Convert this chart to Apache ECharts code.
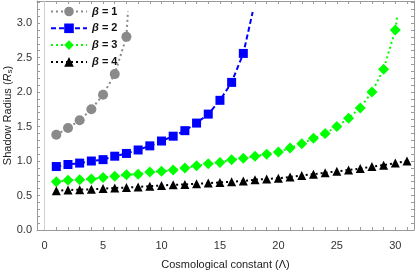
<!DOCTYPE html>
<html>
<head>
<meta charset="utf-8">
<script src="https://cdn.jsdelivr.net/npm/echarts@6/dist/echarts.min.js"></script>
<style>html,body{margin:0;padding:0;background:#fff}#c{width:415px;height:274px}</style>
</head>
<body>
<div id="c"></div>
<script>
// Λ values (x) are integers starting at 1
const beta1 = [1.38, 1.48, 1.59, 1.75, 1.96, 2.26, 2.80];
const beta1End = [7.13, 3.17];
const beta2 = [0.92, 0.95, 0.97, 1.00, 1.02, 1.07, 1.11, 1.16, 1.22, 1.29, 1.36, 1.44, 1.55, 1.68, 1.88, 2.14, 2.56];
const beta2End = [17.8, 3.16];
const beta3 = [0.70, 0.72, 0.73, 0.74, 0.76, 0.78, 0.80, 0.81, 0.84, 0.85, 0.87, 0.90, 0.93, 0.96, 0.98, 1.02, 1.04, 1.07, 1.10, 1.13, 1.19, 1.25, 1.33, 1.40, 1.50, 1.62, 1.77, 2.00, 2.33, 2.90];
const beta3End = [30.17, 3.11];
const beta4 = [0.57, 0.58, 0.585, 0.59, 0.60, 0.61, 0.615, 0.625, 0.635, 0.645, 0.655, 0.66, 0.67, 0.68, 0.69, 0.70, 0.71, 0.73, 0.74, 0.75, 0.77, 0.79, 0.81, 0.83, 0.85, 0.87, 0.89, 0.92, 0.94, 0.97, 1.00];
const xLabels = [0, 5, 10, 15, 20, 25, 30];
const yLabels = [0, 0.5, 1.0, 1.5, 2.0, 2.5, 3.0];
const names = ['β = 1', 'β = 2', 'β = 3', 'β = 4'];

const xTicks = []; for (let i = 0; i <= 31; i++) xTicks.push(i);
const yTicks = []; for (let i = 0; i <= 33; i++) yTicks.push(+(i * 0.1).toFixed(1));

function pts(arr, end) {
  const d = arr.map((v, i) => [i + 1, v]);
  if (end) d.push({ value: end, symbol: 'none' });
  return d;
}

const FONT = 'Liberation Sans, Arial, sans-serif';
const frame = { show: true, onZero: false, lineStyle: { color: '#9a9a9a', width: 1 } };
const tick = { show: true, inside: true, length: 3, lineStyle: { color: '#9a9a9a' } };

const chart = echarts.init(document.getElementById('c'));
chart.setOption({
  animation: false,
  textStyle: { fontFamily: FONT },
  grid: { left: 37, right: 1, top: 1, bottom: 44, outerBoundsMode: 'none', containLabel: false },
  legend: {
    orient: 'vertical', left: 45, top: 1, itemWidth: 36, itemHeight: 12, itemGap: 5.8,
    data: names,
    formatter: function (n) { return '{b|β} {n|' + n.slice(2) + '}'; },
    textStyle: {
      color: '#111', fontSize: 11, fontWeight: 'bold',
      rich: { b: { fontStyle: 'italic', fontWeight: 'bold', fontSize: 11, fontFamily: FONT, color: '#111' },
              n: { fontWeight: 'bold', fontSize: 11, fontFamily: FONT, color: '#111' } }
    }
  },
  xAxis: [{
    type: 'value', min: -0.65, max: 31.6, position: 'bottom',
    name: 'Cosmological constant (Λ)', nameLocation: 'middle', nameGap: 29,
    nameTextStyle: { fontSize: 11, color: '#222', fontFamily: FONT },
    axisLine: frame,
    axisTick: Object.assign({ customValues: xTicks }, tick),
    axisLabel: { customValues: xLabels, fontSize: 11, color: '#333', margin: 10, fontFamily: FONT },
    splitLine: { show: false }
  }, {
    type: 'value', min: -0.65, max: 31.6, position: 'top',
    axisLine: frame,
    axisTick: Object.assign({ customValues: xTicks }, tick),
    axisLabel: { show: false }, splitLine: { show: false }
  }],
  yAxis: [{
    type: 'value', min: 0, max: 3.32, position: 'left',
    name: 'Shadow Radius ({i|R}{s|s})', nameLocation: 'middle', nameGap: 23, nameMoveOverlap: false,
    nameTextStyle: {
      fontSize: 11, color: '#222', fontFamily: FONT,
      rich: { i: { fontStyle: 'italic', fontSize: 11, color: '#222', fontFamily: FONT },
              s: { fontSize: 8, color: '#222', fontFamily: FONT, padding: [5, 0, 0, 0] } }
    },
    axisLine: frame,
    axisTick: Object.assign({ customValues: yTicks }, tick),
    axisLabel: { customValues: yLabels, fontSize: 11, color: '#333', margin: 5, fontFamily: FONT,
                 formatter: v => v.toFixed(1) },
    splitLine: { show: false }
  }, {
    type: 'value', min: 0, max: 3.32, position: 'right',
    axisLine: frame,
    axisTick: Object.assign({ customValues: yTicks }, tick),
    axisLabel: { show: false }, splitLine: { show: false }
  }],
  series: [
    {
      name: names[0], type: 'line', data: pts(beta1, beta1End),
      symbol: 'circle', symbolSize: 10, showAllSymbol: true,
      itemStyle: { color: '#8a8a8a' },
      lineStyle: { color: '#8a8a8a', width: 2, type: [2, 3] },
      markLine: { silent: true, symbol: 'none', label: { show: false },
                  lineStyle: { color: '#cfcfcf', width: 1, type: 'solid' }, data: [{ xAxis: 0 }] },
      z: 2
    },
    {
      name: names[1], type: 'line', data: pts(beta2, beta2End),
      symbol: 'rect', symbolSize: 9, showAllSymbol: true,
      itemStyle: { color: '#0000ff' },
      lineStyle: { color: '#0000ff', width: 2, type: [5, 3] }, z: 3
    },
    {
      name: names[2], type: 'line', data: pts(beta3, beta3End),
      symbol: 'diamond', symbolSize: 11, showAllSymbol: true,
      itemStyle: { color: '#00ff00' },
      lineStyle: { color: '#00ff00', width: 2, type: [2, 3] }, z: 3
    },
    {
      name: names[3], type: 'line', data: pts(beta4, null),
      symbol: 'triangle', symbolSize: 9, showAllSymbol: true,
      itemStyle: { color: '#000000' },
      lineStyle: { color: '#000000', width: 2, type: [2, 3] }, z: 3
    }
  ]
});
</script>
</body>
</html>
